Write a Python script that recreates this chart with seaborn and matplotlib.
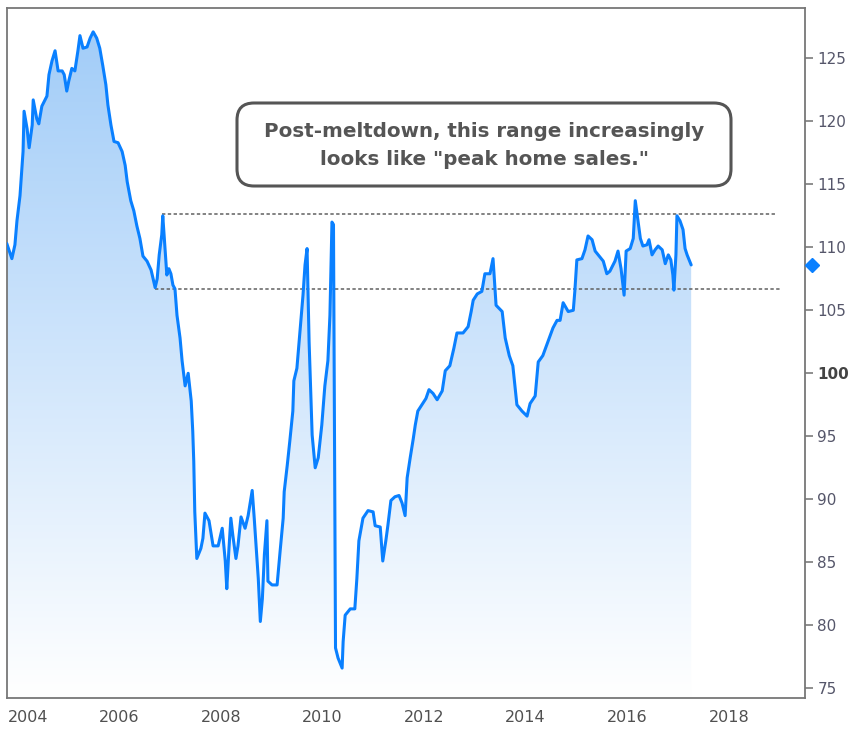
import numpy as np
import pandas as pd
import matplotlib
matplotlib.use("Agg")
import matplotlib.pyplot as plt
import matplotlib.transforms as mtransforms
from matplotlib.colors import LinearSegmentedColormap
from matplotlib.patches import FancyBboxPatch
import seaborn as sns

# index values (decimal year, level)
years = [
    2003.79, 2003.89, 2003.95, 2003.99, 2004.05, 2004.11, 2004.13, 2004.19, 2004.23, 2004.29,
    2004.31, 2004.38, 2004.42, 2004.48, 2004.58, 2004.62, 2004.68, 2004.74, 2004.80, 2004.88,
    2004.92, 2004.97, 2005.01, 2005.07, 2005.13, 2005.19, 2005.23, 2005.29, 2005.37, 2005.43,
    2005.49, 2005.56, 2005.62, 2005.68, 2005.74, 2005.78, 2005.84, 2005.90, 2005.98, 2006.06,
    2006.12, 2006.16, 2006.23, 2006.29, 2006.35, 2006.41, 2006.47, 2006.55, 2006.63, 2006.71,
    2006.75, 2006.79, 2006.84, 2006.86, 2006.90, 2006.94, 2006.98, 2007.02, 2007.06, 2007.10,
    2007.14, 2007.20, 2007.24, 2007.30, 2007.36, 2007.42, 2007.45, 2007.47, 2007.49, 2007.53,
    2007.61, 2007.65, 2007.69, 2007.77, 2007.85, 2007.95, 2008.03, 2008.09, 2008.12, 2008.16,
    2008.20, 2008.24, 2008.30, 2008.34, 2008.40, 2008.48, 2008.54, 2008.62, 2008.66, 2008.70,
    2008.74, 2008.78, 2008.82, 2008.86, 2008.91, 2008.93, 2009.01, 2009.11, 2009.17, 2009.23,
    2009.25, 2009.31, 2009.36, 2009.42, 2009.44, 2009.50, 2009.56, 2009.62, 2009.66, 2009.70,
    2009.74, 2009.80, 2009.86, 2009.92, 2009.99, 2010.05, 2010.11, 2010.15, 2010.19, 2010.22,
    2010.24, 2010.26, 2010.31, 2010.39, 2010.41, 2010.45, 2010.55, 2010.64, 2010.68, 2010.72,
    2010.80, 2010.90, 2011.00, 2011.04, 2011.14, 2011.19, 2011.25, 2011.29, 2011.35, 2011.43,
    2011.51, 2011.57, 2011.63, 2011.67, 2011.73, 2011.79, 2011.83, 2011.88, 2011.96, 2012.04,
    2012.10, 2012.18, 2012.26, 2012.36, 2012.42, 2012.51, 2012.59, 2012.65, 2012.77, 2012.87,
    2012.93, 2012.97, 2013.05, 2013.14, 2013.20, 2013.30, 2013.36, 2013.42, 2013.54, 2013.60,
    2013.68, 2013.75, 2013.83, 2013.93, 2014.03, 2014.09, 2014.19, 2014.25, 2014.34, 2014.44,
    2014.54, 2014.62, 2014.68, 2014.74, 2014.84, 2014.94, 2014.97, 2015.01, 2015.11, 2015.17,
    2015.23, 2015.31, 2015.37, 2015.43, 2015.53, 2015.60, 2015.66, 2015.76, 2015.82, 2015.88,
    2015.94, 2015.98, 2016.06, 2016.12, 2016.16, 2016.20, 2016.26, 2016.31, 2016.39, 2016.43,
    2016.49, 2016.55, 2016.61, 2016.69, 2016.75, 2016.81, 2016.86, 2016.90, 2016.92, 2016.96,
    2016.98, 2017.04, 2017.10, 2017.14, 2017.18, 2017.26,
]
values = [
    110.3, 109.1, 110.2, 112.1, 114.1, 117.6, 120.8, 119.4, 117.9, 119.7,
    121.7, 120.2, 119.8, 121.2, 122.0, 123.7, 124.8, 125.6, 124.0, 124.0,
    123.7, 122.4, 123.2, 124.2, 124.0, 125.6, 126.8, 125.8, 125.9, 126.6,
    127.1, 126.6, 125.8, 124.4, 122.9, 121.3, 119.7, 118.4, 118.3, 117.6,
    116.5, 115.2, 113.7, 112.9, 111.7, 110.7, 109.3, 108.9, 108.2, 106.8,
    107.5, 109.4, 111.0, 112.5, 110.2, 107.8, 108.3, 107.9, 107.0, 106.7,
    104.6, 102.8, 101.0, 99.0, 100.0, 97.8, 95.4, 93.0, 89.0, 85.3,
    86.1, 86.9, 88.9, 88.3, 86.3, 86.3, 87.7, 85.1, 82.9, 85.9,
    88.5, 87.1, 85.3, 86.3, 88.6, 87.7, 88.7, 90.7, 88.5, 86.1,
    83.7, 80.3, 82.1, 85.6, 88.3, 83.5, 83.2, 83.2, 85.9, 88.5,
    90.6, 92.7, 94.6, 97.0, 99.4, 100.4, 103.3, 106.2, 108.6, 109.9,
    102.5, 95.1, 92.5, 93.3, 95.9, 99.0, 101.0, 104.6, 112.0, 111.8,
    95.1, 78.2, 77.4, 76.6, 78.7, 80.8, 81.3, 81.3, 83.7, 86.7,
    88.5, 89.1, 89.0, 87.9, 87.8, 85.1, 86.7, 87.9, 89.9, 90.2,
    90.3, 89.7, 88.7, 91.7, 93.3, 94.8, 95.9, 97.0, 97.5, 98.0,
    98.7, 98.4, 97.9, 98.6, 100.2, 100.6, 102.0, 103.2, 103.2, 103.7,
    104.9, 105.8, 106.3, 106.5, 107.9, 107.9, 109.1, 105.4, 104.9, 102.8,
    101.4, 100.6, 97.5, 97.0, 96.6, 97.6, 98.2, 100.9, 101.4, 102.5,
    103.6, 104.2, 104.2, 105.6, 104.9, 105.0, 106.5, 109.0, 109.1, 109.8,
    110.9, 110.6, 109.7, 109.4, 108.9, 107.9, 108.1, 108.9, 109.7, 108.3,
    106.2, 109.7, 109.9, 110.7, 113.7, 112.5, 110.7, 110.1, 110.2, 110.6,
    109.4, 109.8, 110.1, 109.8, 108.7, 109.4, 109.0, 107.8, 106.6, 109.4,
    112.5, 112.1, 111.4, 109.9, 109.4, 108.6,
]

# range lines: level, start year, end year
range_levels = [112.62, 106.66]
range_starts = [2006.84, 2006.71]
range_ends = [2018.91, 2019.05]

xtick_years = [2004, 2006, 2008, 2010, 2012, 2014, 2016, 2018]
ytick_vals = [75, 80, 85, 90, 95, 100, 105, 110, 115, 120, 125]

note = 'Post-meltdown, this range increasingly\nlooks like "peak home sales."'

XLIM = (2003.80, 2019.50)
YLIM = (74.25, 128.97)
LINE = "#0a80ff"
TICKC = "#55566a"

sns.set_style("white")
plt.rcParams["font.family"] = ["DejaVu Sans"]

df = pd.DataFrame({"year": years, "value": values})

fig = plt.figure(figsize=(8.53, 7.31), dpi=100)
ax = fig.add_axes([0.00856, 0.04555, 0.93514, 0.9431])

# gradient fill under the curve
grad = np.linspace(0, 1, 256).reshape(-1, 1)
cmap = LinearSegmentedColormap.from_list("fade", ["#ffffff", "#9fcbf8"])
im = ax.imshow(grad, aspect="auto", cmap=cmap, origin="lower",
               extent=[XLIM[0], XLIM[1], YLIM[0], YLIM[1]], zorder=1)
area = ax.fill_between(df["year"], df["value"], YLIM[0], facecolor="none",
                       edgecolor="none", zorder=1)
im.set_clip_path(area.get_paths()[0], transform=ax.transData)

sns.lineplot(data=df, x="year", y="value", ax=ax, color=LINE, linewidth=2.2,
             estimator=None, zorder=3)

for lvl, x0, x1 in zip(range_levels, range_starts, range_ends):
    ax.hlines(lvl, x0, x1, colors="#606060", linestyles=(0, (2.2, 1.6)),
              linewidth=1.1, zorder=2)

# last value marker just outside the right edge
trans = mtransforms.blended_transform_factory(ax.transAxes, ax.transData)
ax.plot([1.0088], [values[-1]], marker="D", markersize=7, color=LINE,
        transform=trans, clip_on=False, zorder=5)

# annotation box (figure inches)
box = FancyBboxPatch((2.37, 5.45), 4.94, 0.83,
                     boxstyle="round,pad=0,rounding_size=0.17",
                     transform=fig.dpi_scale_trans, facecolor="white",
                     edgecolor="#555555", linewidth=2.2, zorder=6)
fig.patches.append(box)
fig.text(4.84, 5.855, note, transform=fig.dpi_scale_trans, ha="center", va="center",
         fontsize=14.3, fontweight="bold", color="#555555", linespacing=1.6,
         zorder=7)

ax.set_xlim(*XLIM)
ax.set_ylim(*YLIM)
ax.set_xlabel("")
ax.set_ylabel("")
ax.yaxis.tick_right()
ax.set_xticks(xtick_years)
ax.set_xticklabels([str(y) for y in xtick_years])
ax.set_yticks(ytick_vals)
ax.set_yticklabels([str(v) for v in ytick_vals])
ax.tick_params(axis="both", which="major", direction="out", length=6, width=1.1,
               color="#707070", labelcolor=TICKC, labelsize=11, pad=3)
ax.tick_params(axis="x", labelsize=11.5, labelcolor="#505050")
for lab in ax.get_yticklabels():
    if lab.get_text() == "100":
        lab.set_fontweight("bold")
        lab.set_color("#444444")
first = ax.get_xticklabels()[0]
first.set_horizontalalignment("left")
first.set_transform(first.get_transform() +
                    mtransforms.ScaledTranslation(-0.095, 0, fig.dpi_scale_trans))

for sp in ax.spines.values():
    sp.set_visible(True)
    sp.set_color("#777777")
    sp.set_linewidth(1.3)

fig.savefig("out.png", dpi=100)
